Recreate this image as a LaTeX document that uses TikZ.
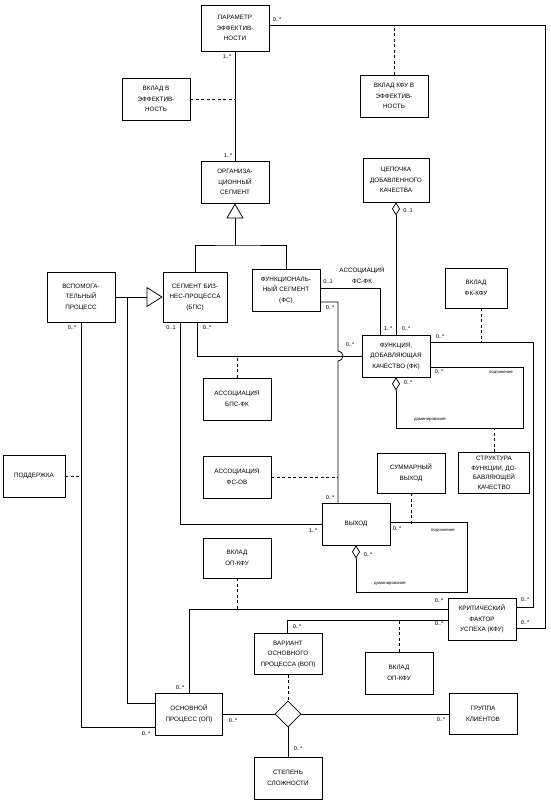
\documentclass[tikz,border=0pt]{standalone}
\usepackage{fontspec}
\setmainfont{Liberation Sans}
\usetikzlibrary{arrows.meta,shapes.geometric}

\begin{document}
\begin{tikzpicture}[
    x=1pt, y=-1pt,
    cls/.style={draw, line width=0.75pt, fill=white, minimum width=68pt, minimum height=42pt, inner sep=1pt, align=center, font=\fontsize{6.3}{10.5}\selectfont},
    mult/.style={inner sep=0pt, font=\fontsize{5.6}{6}\selectfont},
    role/.style={inner sep=0pt, font=\fontsize{4.3}{5}\selectfont},
    assoc/.style={line width=0.75pt},
    dep/.style={line width=0.75pt, dash pattern=on 3pt off 2.5pt},
    gen/.style={line width=0.75pt, -{Triangle[open, width=17pt, length=15pt]}},
    aggr/.style={line width=0.75pt, -{Diamond[open, width=8pt, length=13pt]}}
  ]
  \path[use as bounding box, fill=white] (0,0) rectangle (550,801);

  % Top part
  \node[cls, minimum height=46pt] (param) at (235,28) {ПАРАМЕТР\\ЭФФЕКТИВ-\\НОСТИ};
  \node[cls] (vkladKfuEff) at (394,96) {ВКЛАД КФУ В\\ЭФФЕКТИВ-\\НОСТЬ};
  \node[cls] (vkladEff) at (156,99) {ВКЛАД В\\ЭФФЕКТИВ-\\НОСТЬ};
  \node[cls] (org) at (235,182) {ОРГАНИЗА-\\ЦИОННЫЙ\\СЕГМЕНТ};
  \node[cls, minimum width=66pt, minimum height=44pt] (chain) at (396,180) {ЦЕПОЧКА\\ДОБАВЛЕННОГО\\КАЧЕСТВА};

  % Segments
  \node[cls, minimum height=50pt] (aux) at (81,297) {ВСПОМОГА-\\ТЕЛЬНЫЙ\\ПРОЦЕСС};
  \node[cls, minimum width=64pt, minimum height=50pt] (bps) at (195,297) {СЕГМЕНТ БИЗ-\\НЕС-ПРОЦЕССА\\(БПС)};
  \node[cls] (fs) at (286,290) {ФУНКЦИОНАЛЬ-\\НЫЙ СЕГМЕНТ\\(ФС)};
  \node[cls, minimum width=62pt, minimum height=40pt] (vkladFkKfu) at (476,288) {ВКЛАД\\ФК-КФУ};
  \node[cls] (fk) at (396,356) {ФУНКЦИЯ,\\ДОБАВЛЯЮЩАЯ\\КАЧЕСТВО (ФК)};

  % Middle part
  \node[cls] (assBpsFk) at (237,399) {АССОЦИАЦИЯ\\БПС-ФК};
  \node[cls] (assFsOv) at (237,477) {АССОЦИАЦИЯ\\ФС-ОВ};
  \node[cls, minimum width=62pt] (support) at (34,476) {ПОДДЕРЖКА};
  \node[cls, minimum height=40pt] (sumOut) at (411,473) {СУММАРНЫЙ\\ВЫХОД};
  \node[cls, minimum width=71pt, minimum height=41pt, font=\fontsize{6.3}{9.5}\selectfont] (fkStruct) at (494,473) {СТРУКТУРА\\ФУНКЦИИ, ДО-\\БАВЛЯЮЩЕЙ\\КАЧЕСТВО};
  \node[cls] (out) at (356,524) {ВЫХОД};

  % Bottom part
  \node[cls, minimum height=40pt] (vkladOpKfuA) at (237,558) {ВКЛАД\\ОП-КФУ};
  \node[cls] (kfu) at (482,619) {КРИТИЧЕСКИЙ\\ФАКТОР\\УСПЕХА (КФУ)};
  \node[cls, minimum height=41pt] (vop) at (288,654) {ВАРИАНТ\\ОСНОВНОГО\\ПРОЦЕССА (ВОП)};
  \node[cls] (vkladOpKfuB) at (399,673) {ВКЛАД\\ОП-КФУ};
  \node[cls, minimum width=67pt] (op) at (189,714) {ОСНОВНОЙ\\ПРОЦЕСС (ОП)};
  \node[cls, minimum height=41pt] (clients) at (483,714) {ГРУППА\\КЛИЕНТОВ};
  \node[cls] (complexity) at (288,778) {СТЕПЕНЬ\\СЛОЖНОСТИ};
  \node[draw, diamond, line width=0.75pt, fill=white, minimum width=26pt, minimum height=26pt, inner sep=0pt] (nary) at (288,714) {};

  % Helper points
  \coordinate (paramR) at ([yshift=3pt]param.east);
  \coordinate (railOuter) at (545,0);
  \coordinate (railInner) at (533,0);
  \coordinate (auxJ) at (127,0);
  \coordinate (fsRail) at (338,0);
  \coordinate (genBar) at (235,245);
  \coordinate (fkR) at ([yshift=14pt]fk.east);
  \coordinate (fkLoop) at (523,428);
  \coordinate (outLoop) at (467,592);
  \coordinate (kfuUp) at ([yshift=12pt]kfu.east);
  \coordinate (kfuLow) at ([yshift=-9pt]kfu.east);
  \coordinate (kfuUpL) at ([yshift=10pt]kfu.west);
  \coordinate (kfuLowL) at ([yshift=-1pt]kfu.west);

  % Generalizations
  \draw[assoc] (bps.north) |- (genBar) -| (fs.north);
  \draw[gen] (genBar) -- (org.south);
  \draw[gen, -{Triangle[open, width=20pt, length=16pt]}] (aux.east) -- (bps.west);
  \draw[assoc] (auxJ |- aux.east) |- ([yshift=11pt]op.west);

  % Associations
  \draw[assoc] (param.south) -- (org.north);
  \draw[assoc] (paramR) -| (railOuter |- kfuLow) -- (kfuLow);
  \draw[assoc] (aux.south) |- ([yshift=-13pt]op.west);
  \draw[assoc] ([xshift=-15pt]bps.south) |- (out.west);
  \draw[assoc] ([xshift=2pt]bps.south) |- (fk.west);
  \draw[assoc] ([yshift=2pt]fs.east) -| ([xshift=-16pt]fk.north);
  \draw[assoc] ([yshift=-12pt]fs.east) -| ([yshift=5pt]fsRail |- fk.west)
    arc[start angle=90, end angle=-90, radius=5pt] -- (fsRail |- out.north);
  \draw[aggr] (fk.north) -- (chain.south);
  \draw[assoc] (fkR) -| (railInner |- kfuUp) -- (kfuUp);
  \draw[aggr] ([yshift=-11pt]fk.east) -| (fkLoop) -| (fk.south);
  \draw[aggr] ([yshift=2pt]out.east) -| (outLoop) -| (out.south);
  \draw[assoc] (kfuUpL) -| (op.north);
  \draw[assoc] (kfuLowL) -| ([xshift=-1pt]vop.north);
  \draw[assoc] (op.east) -- (nary.west);
  \draw[assoc] (nary.east) -- (clients.west);
  \draw[assoc] (nary.south) -- (complexity.north);

  % Dependencies
  \draw[dep] (vkladKfuEff.north) -- (vkladKfuEff.north |- paramR);
  \draw[dep] (vkladEff.east) -- (vkladEff.east -| org.north);
  \draw[dep] (support.east) -- (support.east -| aux.south);
  \draw[dep] (assBpsFk.north) -- (assBpsFk.north |- fk.west);
  \draw[dep] (assFsOv.east) -- (assFsOv.east -| fsRail);
  \draw[dep] ([xshift=5pt]vkladFkKfu.south) -- ([xshift=5pt]vkladFkKfu.south |- fkR);
  \draw[dep] (fkStruct.north) -- (fkStruct.north |- fkLoop);
  \draw[dep] (sumOut.south) -- (sumOut.south |- out.east);
  \draw[dep] (vkladOpKfuA.south) -- (vkladOpKfuA.south |- kfuUpL);
  \draw[dep] (vkladOpKfuB.north) -- (vkladOpKfuB.north |- kfuLowL);
  \draw[dep] (vop.south) -- (nary.north);

  % Multiplicities
  \node[mult] (m1) at (277,20) {0..*};
  \node[mult] (m2) at (227,57) {1..*};
  \node[mult] (m3) at (228,156) {1..*};
  \node[mult] (m4) at (408,211) {0..1};
  \node[mult] (m5) at (72,328) {0..*};
  \node[mult] (m6) at (171,328) {0..1};
  \node[mult] (m7) at (207,328) {0..*};
  \node[mult] (m8) at (328,282) {0..1};
  \node[mult] (m9) at (330,308) {0..*};
  \node[mult] (m10) at (350,345) {0..*};
  \node[mult] (m11) at (388,329) {1..*};
  \node[mult] (m12) at (406,329) {0..*};
  \node[mult] (m13) at (440,337) {0..*};
  \node[mult] (m14) at (439,372) {0..*};
  \node[mult] (m15) at (408,383) {0..*};
  \node[mult] (m16) at (330,498) {0..*};
  \node[mult] (m17) at (313,531) {1..*};
  \node[mult] (m18) at (397,529) {0..*};
  \node[mult] (m19) at (368,555) {0..*};
  \node[mult] (m20) at (439,601) {0..*};
  \node[mult] (m21) at (439,624) {0..*};
  \node[mult] (m22) at (525,600) {0..*};
  \node[mult] (m23) at (525,623) {0..*};
  \node[mult] (m24) at (297,627) {0..*};
  \node[mult] (m25) at (180,688) {0..*};
  \node[mult] (m26) at (146,734) {0..*};
  \node[mult] (m27) at (233,721) {0..*};
  \node[mult] (m28) at (441,720) {0..*};
  \node[mult] (m29) at (298,749) {0..*};

  % Association names and roles
  \node[align=center, inner sep=0pt, font=\fontsize{6.3}{10.5}\selectfont] (assFsFk) at (362,276) {АССОЦИАЦИЯ\\ФС-ФК};
  \node[role] (rSubFk) at (501,373) {подчинение};
  \node[role] (rDomFk) at (430,420) {доминирование};
  \node[role] (rSubOut) at (443,531) {подчинение};
  \node[role] (rDomOut) at (390,584) {доминирование};
\end{tikzpicture}
\end{document}
